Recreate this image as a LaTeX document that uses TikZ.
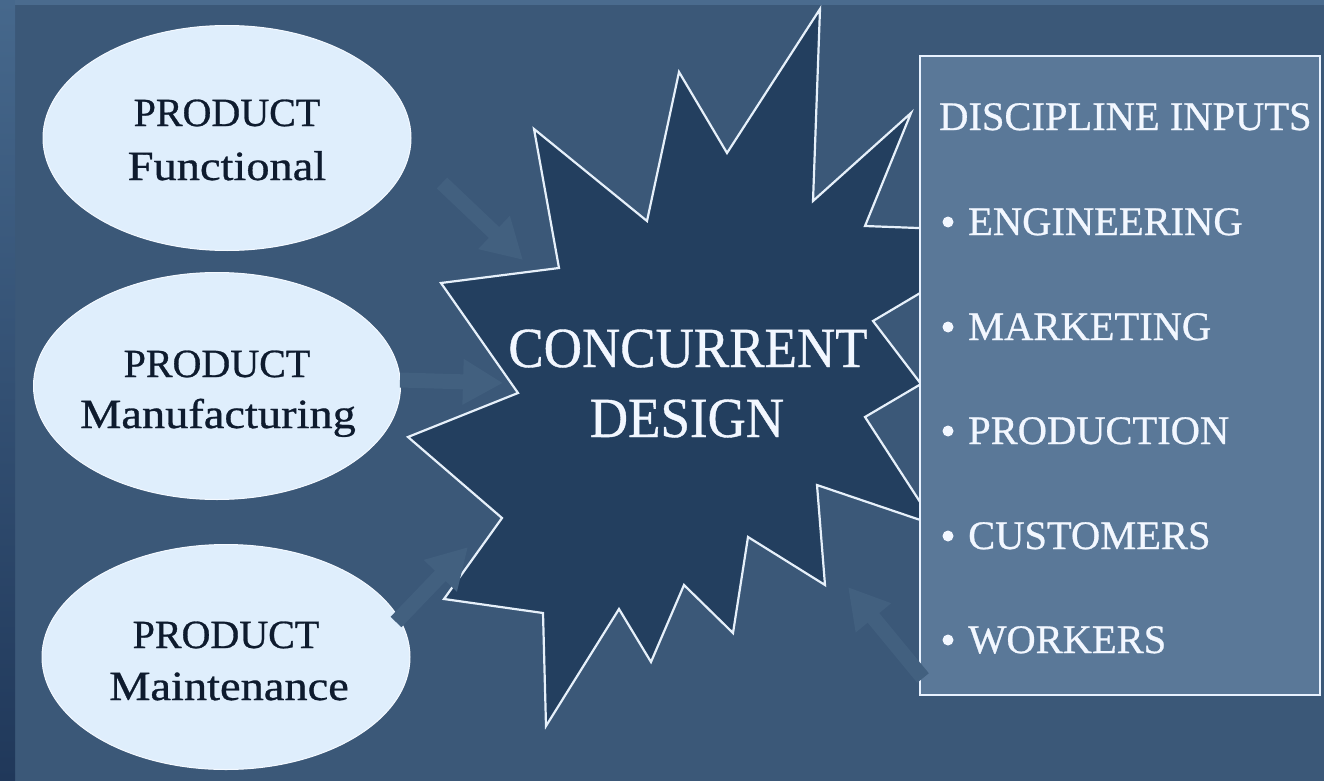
\documentclass[tikz,border=0pt]{standalone}
\usepackage{fontspec}
\setmainfont{Liberation Serif}[FakeBold=0.7]
\usetikzlibrary{arrows.meta,shapes.geometric}
\definecolor{bgmain}{HTML}{3B5878}
\definecolor{bgtop}{HTML}{4A6B8E}
\definecolor{stripTop}{HTML}{46688C}
\definecolor{stripBot}{HTML}{20385A}
\definecolor{ellfill}{HTML}{DFEEFC}
\definecolor{ellborder}{HTML}{F4F9FF}
\definecolor{elltext}{HTML}{0E1B2E}
\definecolor{starfill}{HTML}{233F5F}
\definecolor{starline}{HTML}{E6F0FA}
\definecolor{boxfill}{HTML}{5A7898}
\definecolor{boxline}{HTML}{E8F2FF}
\definecolor{boxtext}{HTML}{F2F7FF}
\definecolor{arrowc}{HTML}{42607F}
\tikzset{
  ellnode/.style={ellipse, fill=ellfill, draw=ellborder, line width=1pt, inner sep=0pt},
  elltxt/.style={text=elltext, font=\fontsize{40}{48}\selectfont, anchor=base, inner sep=0pt},
  elllow/.style={elltxt, xscale=1.16, yscale=1.04},
  centertxt/.style={text=boxtext, font=\fontsize{53}{64}\selectfont, anchor=base, inner sep=0pt, yscale=1.07},
  boxtxt/.style={text=boxtext, font=\fontsize{40.5}{48}\selectfont, anchor=base west, inner sep=0pt},
  bulletdot/.style={circle, fill=boxtext, minimum size=11pt, inner sep=0pt},
  blockarrow/.style={draw=arrowc, line width=15pt, -{Triangle[length=40pt, width=43pt]}},
}
\begin{document}
\begin{tikzpicture}[x=1pt,y=-1pt]
\useasboundingbox (0,0) rectangle (1324,781);
% background
\fill[bgmain] (0,0) rectangle (1324,781);
\shade[top color=stripTop, bottom color=stripBot] (0,0) rectangle (15,781);
\fill[bgtop] (15,0) rectangle (1324,5);

% ellipses
\node[ellnode, minimum width=368pt, minimum height=225pt] (e1) at (227,138) {};
\node[ellnode, minimum width=367pt, minimum height=227pt] (e2) at (217,386) {};
\node[ellnode, minimum width=368pt, minimum height=225pt] (e3) at (226,657) {};

% starburst
\draw[fill=starfill, draw=starline, line width=2.2pt, line join=miter]
  (441,283) -- (559,268) -- (534,129) -- (647,221) -- (679,72) -- (727,153)
  -- (820,9) -- (813,201) -- (911,113) -- (865,226) -- (1023,232) -- (873,321)
  -- (921,384) -- (865,417) -- (935,525) -- (817,485) -- (825,585) -- (748,537)
  -- (733,633) -- (684,585) -- (651,662) -- (619,609) -- (546,726) -- (543,613)
  -- (444,599) -- (502,518) -- (408,437) -- (518,393) -- cycle;

% discipline box
\draw[fill=boxfill, draw=boxline, line width=2.2pt] (920,56) rectangle (1320,695);
\node[inner sep=0pt] (box) at (1120,375) {};

% arrows
\coordinate (a1s) at (442,183); \coordinate (a1e) at (523,260);
\coordinate (a2s) at (400,380); \coordinate (a2e) at (503,383);
\coordinate (a3s) at (396,622); \coordinate (a3e) at (468,547);
\coordinate (a4s) at (923,678); \coordinate (a4e) at (848,587);
\draw[blockarrow] (a1s) -- (a1e);
\draw[blockarrow] (a2s) -- (a2e);
\draw[blockarrow] (a3s) -- (a3e);
\draw[blockarrow] (a4s) -- (a4e);

% ellipse texts
\node[elltxt] (t1a) at (227,126) {PRODUCT};
\node[elllow] (t1b) at (227,180) {Functional};
\node[elltxt] (t2a) at (217,377) {PRODUCT};
\node[elllow] (t2b) at (218,428) {Manufacturing};
\node[elltxt] (t3a) at (226,648) {PRODUCT};
\node[elllow] (t3b) at (229,700) {Maintenance};

% center text
\node[centertxt] (cd1) at (688,367) {CONCURRENT};
\node[centertxt] (cd2) at (687,437) {DESIGN};

% box texts
\node[boxtxt] (bh) at (939,130) {DISCIPLINE INPUTS};
\node[bulletdot] (b1) at (948,222) {}; \node[boxtxt] (l1) at (968,235) {ENGINEERING};
\node[bulletdot] (b2) at (948,327) {}; \node[boxtxt] (l2) at (968,340) {MARKETING};
\node[bulletdot] (b3) at (948,431) {}; \node[boxtxt] (l3) at (968,444) {PRODUCTION};
\node[bulletdot] (b4) at (948,536) {}; \node[boxtxt] (l4) at (968,549) {CUSTOMERS};
\node[bulletdot] (b5) at (948,640) {}; \node[boxtxt] (l5) at (968,653) {WORKERS};
\end{tikzpicture}
\end{document}
